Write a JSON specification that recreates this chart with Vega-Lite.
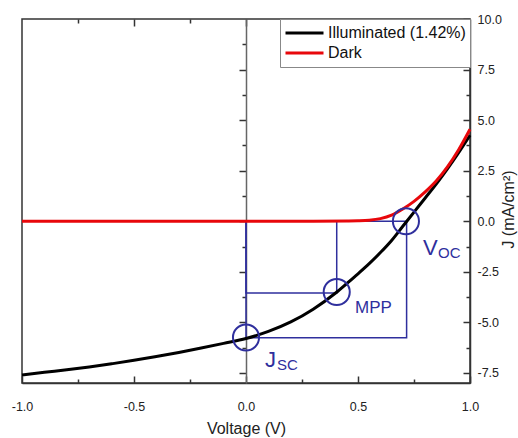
{
  "$schema": "https://vega.github.io/schema/vega-lite/v6.json",
  "width": 448,
  "height": 364,
  "autosize": "none",
  "padding": {"left": 22, "top": 19, "right": 48, "bottom": 55},
  "background": "white",
  "config": {
    "font": "Liberation Sans",
    "view": {"stroke": "#333", "strokeWidth": 1.5},
    "axis": {"grid": false, "domainColor": "#333", "tickColor": "#333", "labelColor": "#222", "titleColor": "#222", "labelFont": "Liberation Sans", "titleFont": "Liberation Sans", "titleFontWeight": "normal", "domainWidth": 1.5, "tickWidth": 1.5, "labelFontSize": 12.5, "titleFontSize": 16}
  },
  "datasets": {
    "curves": [
      {"V": -1.0, "J": -7.6, "series": "Illuminated (1.42%)"},
      {"V": -0.9, "J": -7.47, "series": "Illuminated (1.42%)"},
      {"V": -0.8, "J": -7.35, "series": "Illuminated (1.42%)"},
      {"V": -0.7, "J": -7.21, "series": "Illuminated (1.42%)"},
      {"V": -0.6, "J": -7.05, "series": "Illuminated (1.42%)"},
      {"V": -0.5, "J": -6.88, "series": "Illuminated (1.42%)"},
      {"V": -0.4, "J": -6.69, "series": "Illuminated (1.42%)"},
      {"V": -0.3, "J": -6.49, "series": "Illuminated (1.42%)"},
      {"V": -0.2, "J": -6.27, "series": "Illuminated (1.42%)"},
      {"V": -0.1, "J": -6.04, "series": "Illuminated (1.42%)"},
      {"V": 0.0, "J": -5.8, "series": "Illuminated (1.42%)"},
      {"V": 0.1, "J": -5.45, "series": "Illuminated (1.42%)"},
      {"V": 0.2, "J": -4.98, "series": "Illuminated (1.42%)"},
      {"V": 0.3, "J": -4.35, "series": "Illuminated (1.42%)"},
      {"V": 0.4, "J": -3.55, "series": "Illuminated (1.42%)"},
      {"V": 0.45, "J": -3.08, "series": "Illuminated (1.42%)"},
      {"V": 0.5, "J": -2.6, "series": "Illuminated (1.42%)"},
      {"V": 0.55, "J": -2.1, "series": "Illuminated (1.42%)"},
      {"V": 0.6, "J": -1.55, "series": "Illuminated (1.42%)"},
      {"V": 0.65, "J": -0.95, "series": "Illuminated (1.42%)"},
      {"V": 0.7, "J": -0.25, "series": "Illuminated (1.42%)"},
      {"V": 0.75, "J": 0.45, "series": "Illuminated (1.42%)"},
      {"V": 0.8, "J": 1.15, "series": "Illuminated (1.42%)"},
      {"V": 0.85, "J": 1.85, "series": "Illuminated (1.42%)"},
      {"V": 0.9, "J": 2.6, "series": "Illuminated (1.42%)"},
      {"V": 0.95, "J": 3.4, "series": "Illuminated (1.42%)"},
      {"V": 1.0, "J": 4.25, "series": "Illuminated (1.42%)"},
      {"V": -1.0, "J": 0.0, "series": "Dark"},
      {"V": -0.5, "J": 0.0, "series": "Dark"},
      {"V": 0.0, "J": 0.0, "series": "Dark"},
      {"V": 0.3, "J": 0.0, "series": "Dark"},
      {"V": 0.45, "J": 0.01, "series": "Dark"},
      {"V": 0.5, "J": 0.02, "series": "Dark"},
      {"V": 0.55, "J": 0.05, "series": "Dark"},
      {"V": 0.6, "J": 0.13, "series": "Dark"},
      {"V": 0.65, "J": 0.3, "series": "Dark"},
      {"V": 0.7, "J": 0.6, "series": "Dark"},
      {"V": 0.75, "J": 0.98, "series": "Dark"},
      {"V": 0.8, "J": 1.45, "series": "Dark"},
      {"V": 0.85, "J": 2.0, "series": "Dark"},
      {"V": 0.9, "J": 2.7, "series": "Dark"},
      {"V": 0.95, "J": 3.55, "series": "Dark"},
      {"V": 1.0, "J": 4.55, "series": "Dark"}
    ],
    "rects": [
      {"x1": 0, "x2": 0.717, "y1": 0, "y2": -5.76},
      {"x1": 0, "x2": 0.405, "y1": 0, "y2": -3.55}
    ],
    "circles": [
      {"V": 0.0, "J": -5.75},
      {"V": 0.405, "J": -3.5},
      {"V": 0.714, "J": 0.0}
    ],
    "big": [
      {"label": "V", "V": 0.79, "J": -1.68},
      {"label": "J", "V": 0.085, "J": -7.23}
    ],
    "small": [
      {"label": "OC", "V": 0.857, "J": -1.83},
      {"label": "SC", "V": 0.138, "J": -7.38}
    ],
    "mpp": [
      {"label": "MPP", "V": 0.487, "J": -4.55}
    ]
  },
  "layer": [
    {
      "mark": {"type": "rule", "color": "#666", "strokeWidth": 1.5},
      "encoding": {
        "y": {"datum": 0, "type": "quantitative", "scale": {"domain": [-8, 10], "nice": false, "zero": false}, "axis": null}
      }
    },
    {
      "data": {"name": "rects"},
      "mark": {"type": "rect", "fillOpacity": 0, "stroke": "#2f2f9d", "strokeWidth": 1.5},
      "encoding": {
        "x": {"field": "x1", "type": "quantitative", "scale": {"domain": [-1, 1], "nice": false, "zero": false},
          "axis": {"orient": "top", "labels": false, "title": null, "domain": false, "values": [-0.75, -0.5, -0.25, 0, 0.25, 0.5, 0.75],
            "tickSize": {"condition": {"test": "abs(datum.value % 0.5) < 0.001", "value": -7}, "value": -4}}},
        "x2": {"field": "x2"},
        "y": {"field": "y1", "type": "quantitative", "scale": {"domain": [-8, 10], "nice": false, "zero": false},
          "axis": {"orient": "left", "offset": -224, "labels": false, "title": null, "domainColor": "#666", "values": [-7.5, -6.25, -5, -3.75, -2.5, -1.25, 0, 1.25, 2.5, 3.75, 5, 6.25, 7.5, 8.75],
            "tickSize": {"condition": {"test": "abs(datum.value % 2.5) < 0.001", "value": 7}, "value": 4}}},
        "y2": {"field": "y2"}
      }
    },
    {
      "data": {"name": "curves"},
      "mark": {"type": "line", "strokeWidth": 3, "interpolate": "monotone"},
      "encoding": {
        "x": {"field": "V", "type": "quantitative", "scale": {"domain": [-1, 1], "nice": false, "zero": false},
          "axis": {"orient": "bottom", "title": "Voltage (V)", "titleY": 50, "titleBaseline": "alphabetic", "values": [-1, -0.75, -0.5, -0.25, 0, 0.25, 0.5, 0.75, 1],
            "labelExpr": "abs(datum.value % 0.5) < 0.001 ? replace(format(datum.value, '.1f'), '\u2212', '-') : ''",
            "labelPadding": 24, "labelFlush": false,
            "tickSize": {"condition": {"test": "abs(datum.value % 0.5) < 0.001", "value": -7}, "value": -4}}},
        "y": {"field": "J", "type": "quantitative", "scale": {"domain": [-8, 10], "nice": false, "zero": false},
          "axis": {"orient": "right", "title": "J (mA/cm²)", "titleAngle": 270, "titleX": 38, "titleY": 190, "titleAlign": "center", "titleBaseline": "middle",
            "values": [-7.5, -6.25, -5, -3.75, -2.5, -1.25, 0, 1.25, 2.5, 3.75, 5, 6.25, 7.5, 8.75, 10],
            "labelExpr": "abs(datum.value % 2.5) < 0.001 ? replace(format(datum.value, '.1f'), '\u2212', '-') : ''",
            "labelPadding": 14, "labelFlush": false,
            "tickSize": {"condition": {"test": "abs(datum.value % 2.5) < 0.001", "value": -7}, "value": -4}}},
        "color": {"field": "series", "type": "nominal", "sort": ["Illuminated (1.42%)", "Dark"],
          "scale": {"domain": ["Illuminated (1.42%)", "Dark"], "range": ["#000000", "#e8070b"]},
          "legend": {"orient": "top-right", "offset": 0, "title": null, "padding": 4, "strokeColor": "#888", "fillColor": "white",
            "symbolType": "stroke", "symbolSize": 1444, "symbolStrokeWidth": 3, "labelFontSize": 16, "labelFont": "Liberation Sans", "labelColor": "#111",
            "clipHeight": 20, "labelOffset": 3, "rowPadding": 0}}
      }
    },
    {
      "data": {"name": "circles"},
      "mark": {"type": "point", "shape": "circle", "filled": false, "size": 680, "stroke": "#2f2f9d", "strokeWidth": 2, "opacity": 1},
      "encoding": {
        "x": {"field": "V", "type": "quantitative", "scale": {"domain": [-1, 1], "nice": false, "zero": false}, "axis": null},
        "y": {"field": "J", "type": "quantitative", "scale": {"domain": [-8, 10], "nice": false, "zero": false}, "axis": null}
      }
    },
    {
      "data": {"name": "big"},
      "mark": {"type": "text", "align": "left", "baseline": "alphabetic", "fontSize": 22, "color": "#2f2f9d", "font": "Liberation Sans"},
      "encoding": {
        "x": {"field": "V", "type": "quantitative", "scale": {"domain": [-1, 1], "nice": false, "zero": false}, "axis": null},
        "y": {"field": "J", "type": "quantitative", "scale": {"domain": [-8, 10], "nice": false, "zero": false}, "axis": null},
        "text": {"field": "label"}
      }
    },
    {
      "data": {"name": "small"},
      "mark": {"type": "text", "align": "left", "baseline": "alphabetic", "fontSize": 15, "color": "#2f2f9d", "font": "Liberation Sans"},
      "encoding": {
        "x": {"field": "V", "type": "quantitative", "scale": {"domain": [-1, 1], "nice": false, "zero": false}, "axis": null},
        "y": {"field": "J", "type": "quantitative", "scale": {"domain": [-8, 10], "nice": false, "zero": false}, "axis": null},
        "text": {"field": "label"}
      }
    },
    {
      "data": {"name": "mpp"},
      "mark": {"type": "text", "align": "left", "baseline": "alphabetic", "fontSize": 17, "color": "#2f2f9d", "font": "Liberation Sans"},
      "encoding": {
        "x": {"field": "V", "type": "quantitative", "scale": {"domain": [-1, 1], "nice": false, "zero": false}, "axis": null},
        "y": {"field": "J", "type": "quantitative", "scale": {"domain": [-8, 10], "nice": false, "zero": false}, "axis": null},
        "text": {"field": "label"}
      }
    }
  ],
  "resolve": {"axis": {"x": "independent", "y": "independent"}}
}
